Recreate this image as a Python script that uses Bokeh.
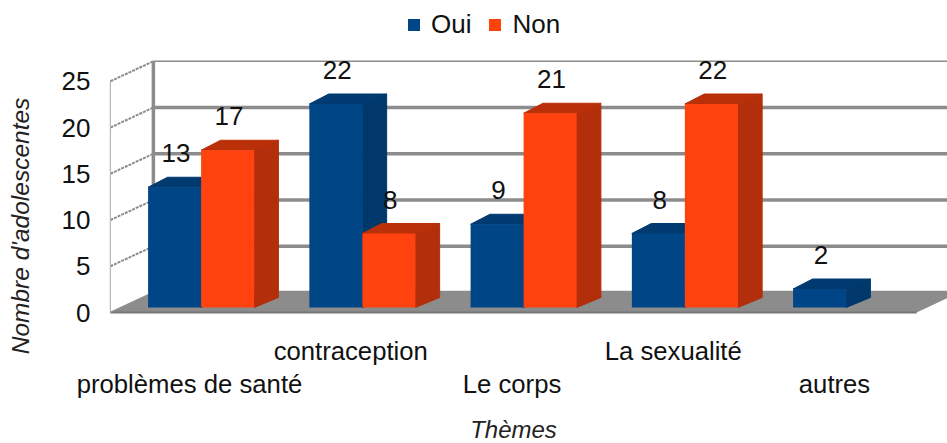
from bokeh.plotting import figure
from bokeh.embed import file_html
from bokeh.resources import INLINE
from bokeh.models import Legend, LegendItem, FixedTicker, ColumnDataSource, Range1d
from bokeh.core.properties import value

categories = ["problèmes de santé", "contraception", "Le corps", "La sexualité", "autres"]
oui = [13, 22, 9, 8, 2]
non = [17, 8, 21, 22, None]
y_ticks = [0, 5, 10, 15, 20, 25]
series_names = ["Oui", "Non"]
x_title = "Thèmes"
y_title = "Nombre d'adolescentes"

W, H = 947, 443
FRAME_L, FRAME_R, FRAME_T, FRAME_B = 72, 947, 8, 443   # canvas px
PX_Y = 9.25          # px per unit of value
PX_X = 161.25        # px per category
ZERO_Y = 312         # canvas px of value 0, front plane
CAT0_X = 190.5       # canvas px of category 0, front plane
BAR_W = 53 / PX_X
DX, DY = 43 / PX_X, 20 / PX_Y   # full floor depth in data units

FONT = "Liberation Sans"
BLUE, BLUE_SIDE, BLUE_TOP = "#004586", "#00386c", "#003a70"
ORANGE, ORANGE_SIDE, ORANGE_TOP = "#ff420e", "#b32e0a", "#b93009"
GREY = "#8c8c8c"
TEXT = "#111111"

p = figure(width=W, height=H, output_backend="svg", toolbar_location=None,
           x_axis_location=None,
           x_range=Range1d((FRAME_L - CAT0_X) / PX_X, (FRAME_R - CAT0_X) / PX_X),
           y_range=Range1d((ZERO_Y - FRAME_B) / PX_Y, (ZERO_Y - FRAME_T) / PX_Y),
           min_border_left=FRAME_L, min_border_right=0, min_border_top=FRAME_T,
           min_border_bottom=H - FRAME_B, outline_line_color=None, background_fill_color="white")
p.grid.visible = False

# axes
yax = p.yaxis[0]
yax.ticker = FixedTicker(ticks=y_ticks)
yax.axis_line_color = None
yax.major_tick_line_color = None
yax.minor_tick_line_color = None
yax.major_label_text_font = FONT
yax.major_label_text_font_size = "26px"
yax.major_label_text_color = TEXT
yax.major_label_standoff = -24
yax.axis_label = y_title
yax.axis_label_text_font = FONT
yax.axis_label_text_font_style = "italic"
yax.axis_label_text_font_size = "24.5px"
yax.axis_label_text_color = "#222222"
yax.axis_label_standoff = 25

n = len(categories)
left = -0.5
right = n - 0.5

# floor
p.patch([left, right, right + DX, right + DX, left + DX],
        [0, 0, DY, DY, DY], fill_color=GREY, line_color=None)
p.line([left, right], [0, 0], line_color="#777777", line_width=2)

# walls
top = y_ticks[-1]
for t in y_ticks:
    is_last = t == top
    p.line([left + DX, right + DX], [t + DY, t + DY], line_color=GREY,
           line_width=1.5 if is_last else 3.5)
    if t > 0:
        p.line([left, left + DX], [t, t + DY], line_color=GREY, line_width=2, line_dash="3 1")
p.line([left + DX, left + DX], [0 + DY, top + DY], line_color=GREY, line_width=3.5)
p.line([left, left], [0, top], line_color="#b5b5b5", line_width=1.2)
p.line([left, left + DX], [0, DY], line_color=GREY, line_width=1.5)

# bars: position of the front and back faces inside the floor's depth
FX0, FX1 = 0.235, 0.80
FY0, FY1 = 0.25, 0.75
def bar3d(xs_left, vals, c_front, c_side, c_top):
    rows = [(x, v) for x, v in zip(xs_left, vals) if v is not None]
    x0 = [x + FX0 * DX for x, v in rows]
    x1 = [x + BAR_W + FX0 * DX for x, v in rows]
    b0 = [FY0 * DY] * len(rows)
    t0 = [v + FY0 * DY for x, v in rows]
    d_x, d_y = (FX1 - FX0) * DX, (FY1 - FY0) * DY
    side_x = [[a, a + d_x, a + d_x, a] for a in x1]
    side_y = [[b, b + d_y, c + d_y, c] for b, c in zip(b0, t0)]
    top_x = [[a, a + d_x * 0.8, c + d_x, c] for a, c in zip(x0, x1)]
    top_y = [[c, c + d_y, c + d_y, c] for c in t0]
    p.patches(side_x, side_y, fill_color=c_side, line_color=c_side)
    p.patches(top_x, top_y, fill_color=c_top, line_color=c_top)
    src = ColumnDataSource(dict(l=x0, r=x1, b=b0, t=t0))
    q = p.quad(left="l", right="r", bottom="b", top="t", source=src, fill_color=c_front, line_color=None)
    p.text(x=[(a + c) / 2 + 0.008 for a, c in zip(x0, x1)], y=t0,
           text=[str(v) for x, v in rows], y_offset=-34,
           text_font=value(FONT), text_font_size="26px", text_color=TEXT,
           text_align="center", text_baseline="middle")
    return q

xs = list(range(n))
r_oui = bar3d([x - BAR_W for x in xs], oui, BLUE, BLUE_SIDE, BLUE_TOP)
r_non = bar3d(xs, non, ORANGE, ORANGE_SIDE, ORANGE_TOP)

# category labels, alternating rows
for i, c in enumerate(categories):
    row = 0 if i % 2 else 1
    p.text(x=[i], y=[0], text=[c], y_offset=38 + 33 * row, x_offset=-1.5,
           text_font=value(FONT), text_font_size="25.7px", text_color=TEXT,
           text_align="center", text_baseline="middle")

# x axis title, on the middle category
p.text(x=[(n - 1) / 2], y=[0], text=[x_title], y_offset=117,
       text_font=value(FONT), text_font_style="italic", text_font_size="24px", text_color="#222222",
       text_align="center", text_baseline="middle")

legend = Legend(items=[LegendItem(label=series_names[0], renderers=[r_oui]),
                       LegendItem(label=series_names[1], renderers=[r_non])],
                orientation="horizontal", location=(406 - FRAME_L, FRAME_B - 40), border_line_color=None,
                background_fill_alpha=0, glyph_width=15, glyph_height=15, spacing=16,
                label_standoff=10, padding=0, margin=0,
                label_text_font=FONT, label_text_font_size="26px", label_text_color=TEXT)
p.add_layout(legend)

open("out.html", "w").write(file_html(p, INLINE))
